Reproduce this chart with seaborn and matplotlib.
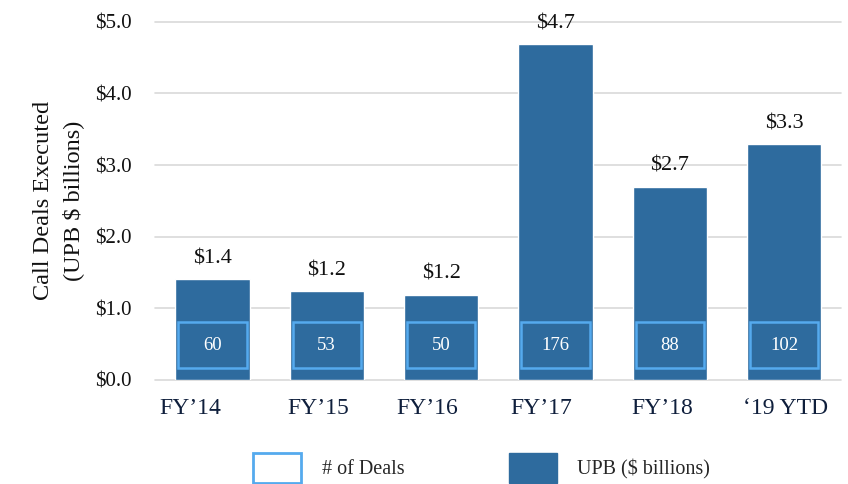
import matplotlib
matplotlib.use("Agg")
import matplotlib.pyplot as plt
import matplotlib.transforms as mtransforms
from matplotlib.patches import Rectangle, Patch
import seaborn as sns
import pandas as pd

# 数据
years = ["FY\u201914", "FY\u201915", "FY\u201916", "FY\u201917", "FY\u201918", "\u201819 YTD"]
upb = [1.41, 1.24, 1.19, 4.69, 2.70, 3.29]
upb_labels = ["$1.4", "$1.2", "$1.2", "$4.7", "$2.7", "$3.3"]
deals = [60, 53, 50, 176, 88, 102]
yticks = [0, 1, 2, 3, 4, 5]

bar_color = "#2E6B9E"
box_edge = "#55AAEE"
# x 轴标签在原图中略有左右偏移（像素）
label_shift = [-22, -8, -14, -14, -7, 2]

sns.set_style("white")
plt.rcParams['font.family'] = ['Liberation Serif', 'DejaVu Serif']

df = pd.DataFrame({'year': years, 'upb': upb})

fig = plt.figure(figsize=(8.48, 4.84), dpi=100)
ax = fig.add_axes([0.183, 0.215, 0.809, 0.74])
sns.barplot(data=df, x='year', y='upb', color=bar_color, saturation=1, width=0.65, ax=ax, zorder=2)

ax.set_ylim(0, 5)
ax.set_yticks(yticks)
ax.set_yticklabels([f"${v:.1f}" for v in yticks], fontsize=15)
ax.grid(axis='y', color='#d9d9d9', linewidth=1.2, zorder=0)
for g in ax.get_ygridlines():
    g.set_clip_on(False)
ax.tick_params(axis='y', length=0, pad=17, labelcolor='#111111')
ax.tick_params(axis='x', length=0, pad=13, labelsize=17, labelcolor='#0f1f3c')
for lbl, dx in zip(ax.get_xticklabels(), label_shift):
    lbl.set_transform(lbl.get_transform() + mtransforms.ScaledTranslation(dx / 100, 0, fig.dpi_scale_trans))
for s in ax.spines.values():
    s.set_visible(False)
ax.set_xlabel('')
ax.set_ylabel('Call Deals Executed\n(UPB $ billions)', fontsize=17.5, labelpad=8, linespacing=1.45,
              color='#111111')

# 柱顶标签和内部的交易数量框
for bar, lab, n in zip(ax.patches, upb_labels, deals):
    x0 = bar.get_x()
    w = bar.get_width()
    h = bar.get_height()
    ax.text(x0 + w / 2, h + 0.15, lab, ha='center', va='bottom', fontsize=16, color='#111111')
    ax.add_patch(Rectangle((x0 + w * 0.04, 0.17), w * 0.92, 0.64, facecolor=bar_color,
                           edgecolor=box_edge, linewidth=1.8, zorder=3))
    ax.text(x0 + w / 2, 0.48, str(n), ha='center', va='center', color='white', fontsize=13.5, zorder=4)

handles = [Patch(facecolor='white', edgecolor=box_edge, linewidth=2, label='# of Deals'),
           Patch(facecolor=bar_color, edgecolor=bar_color, label='UPB ($ billions)')]
fig.legend(handles=handles, loc='lower center', bbox_to_anchor=(0.568, -0.035), ncol=2, frameon=False,
           fontsize=14.5, handlelength=2.4, handleheight=1.9, columnspacing=5.2, handletextpad=1.0)

plt.savefig('out.png', dpi=100)
plt.close()
